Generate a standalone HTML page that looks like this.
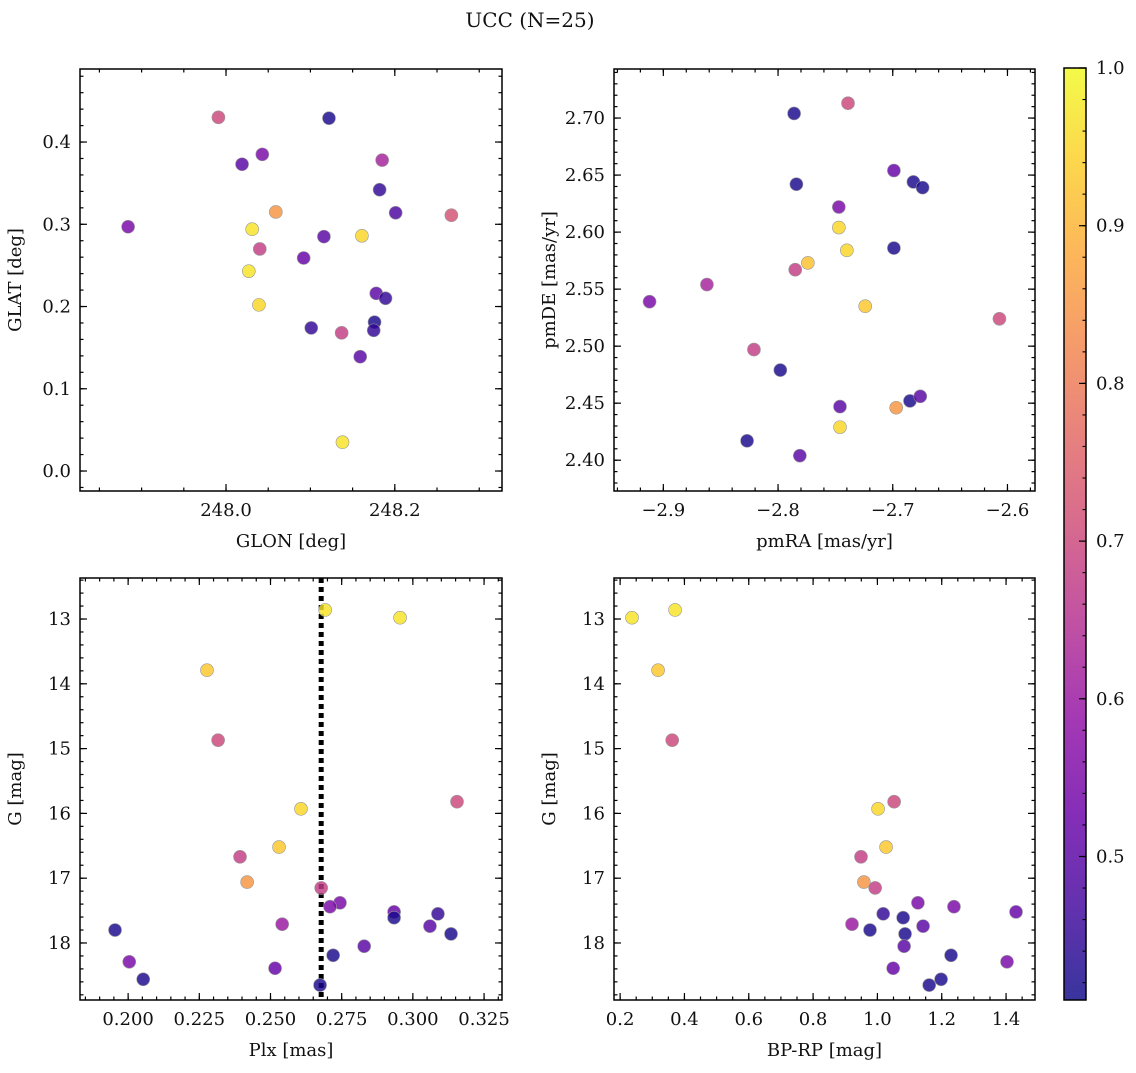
<!DOCTYPE html>
<html><head><meta charset="utf-8"><style>
body{margin:0;background:#fff}
svg text{font-family:"DejaVu Serif","Liberation Serif",serif;fill:#111}
</style></head><body>
<svg id="s" width="1136" height="1068" xmlns="http://www.w3.org/2000/svg">
<defs><linearGradient id="cbg" x1="0" y1="1" x2="0" y2="0">
<stop offset="0" stop-color="#0d0887"/><stop offset="0.1" stop-color="#41049d"/><stop offset="0.2" stop-color="#6a00a8"/><stop offset="0.3" stop-color="#8f0da4"/><stop offset="0.4" stop-color="#b12a90"/><stop offset="0.5" stop-color="#cc4778"/><stop offset="0.6" stop-color="#e16462"/><stop offset="0.7" stop-color="#f2844b"/><stop offset="0.8" stop-color="#fca636"/><stop offset="0.9" stop-color="#fcce25"/><stop offset="1" stop-color="#f0f921"/></linearGradient></defs>
<text x="530" y="27" font-size="20" text-anchor="middle">UCC (N=25)</text>
</svg>
<script>
const probs=[0.55,0.70,0.42,0.55,0.50,0.62,0.45,0.48,0.72,0.85,0.97,0.50,0.95,0.68,0.97,0.52,0.95,0.50,0.45,0.45,0.68,0.42,0.45,0.50,0.97];
const glon=[247.884,247.991,248.122,248.043,248.019,248.185,248.182,248.201,248.267,248.059,248.031,248.116,248.161,248.040,248.027,248.092,248.039,248.178,248.189,248.101,248.137,248.176,248.175,248.159,248.138];
const glat=[0.297,0.430,0.429,0.385,0.373,0.378,0.342,0.314,0.311,0.315,0.294,0.285,0.286,0.270,0.243,0.259,0.202,0.216,0.210,0.174,0.168,0.181,0.171,0.139,0.035];
const pmProbs=[0.42,0.70,0.42,0.52,0.42,0.42,0.55,0.95,0.95,0.42,0.92,0.68,0.55,0.62,0.93,0.70,0.68,0.42,0.42,0.50,0.50,0.85,0.95,0.42,0.50];
const pmra=[-2.786,-2.739,-2.784,-2.699,-2.682,-2.674,-2.747,-2.747,-2.740,-2.699,-2.774,-2.785,-2.912,-2.862,-2.724,-2.607,-2.821,-2.798,-2.685,-2.676,-2.746,-2.697,-2.746,-2.827,-2.781];
const pmde=[2.704,2.713,2.642,2.654,2.644,2.639,2.622,2.604,2.584,2.586,2.573,2.567,2.539,2.554,2.535,2.524,2.497,2.479,2.452,2.456,2.447,2.446,2.429,2.417,2.404];
const gProbs=[0.97,0.97,0.93,0.70,0.70,0.95,0.93,0.68,0.85,0.68,0.55,0.55,0.52,0.45,0.42,0.60,0.50,0.42,0.42,0.50,0.42,0.55,0.52,0.42,0.42];
const plx=[0.2692,0.2955,0.2277,0.2316,0.3155,0.2607,0.2530,0.2393,0.2418,0.2678,0.2744,0.2709,0.2934,0.3088,0.2934,0.2541,0.3060,0.1954,0.3134,0.2829,0.2720,0.2004,0.2516,0.2053,0.2674];
const gmag=[12.86,12.98,13.79,14.87,15.82,15.93,16.52,16.67,17.06,17.15,17.38,17.44,17.52,17.55,17.61,17.71,17.74,17.80,17.86,18.05,18.19,18.29,18.39,18.56,18.65];
const bprp=[0.371,0.237,0.318,0.362,1.052,1.002,1.027,0.949,0.958,0.993,1.126,1.238,1.431,1.018,1.080,0.921,1.142,0.977,1.086,1.083,1.229,1.403,1.049,1.198,1.161];
const plxLine=0.2678;
const cbTicks=[0.5,0.6,0.7,0.8,0.9,1.0];

const S=document.getElementById('s'),NS='http://www.w3.org/2000/svg';
function mk(t,a,p){const e=document.createElementNS(NS,t);for(const k in a)e.setAttribute(k,a[k]);(p||S).appendChild(e);return e;}
const stops=[[13,8,135],[65,4,157],[106,0,168],[143,13,164],[177,42,144],[204,71,120],[225,100,98],[242,132,75],[252,166,54],[252,206,37],[240,249,33]];
const vmin=0.409,vmax=1.0;
function cmap(v){let t=Math.max(0,Math.min(1,(v-vmin)/(vmax-vmin)))*10;let i=Math.min(9,Math.floor(t)),f=t-i;const a=stops[i],b=stops[i+1];return 'rgb('+a.map((c,j)=>Math.round(c+(b[j]-c)*f)).join(',')+')';}
const fmt=(v,d)=>(v<0?'\u2212':'')+Math.abs(v).toFixed(d);
function panel(o){
  const {L,T,W,H,x0,x1,y0,y1,inv}=o;
  const X=v=>L+(v-x0)/(x1-x0)*W, Y=v=>inv?T+(v-y0)/(y1-y0)*H:T+H-(v-y0)/(y1-y0)*H;
  const g=mk('g',{});
  function ticks(a0,a1,step,len,isX,labels,dec){
    const st=Math.ceil(a0/step-1e-6);
    for(let k=st;k*step<=a1+1e-9;k++){const v=k*step;
      if(isX){const x=X(v);mk('line',{x1:x,x2:x,y1:T+H,y2:T+H-len,stroke:'#000','stroke-width':1.2},g);mk('line',{x1:x,x2:x,y1:T,y2:T+len,stroke:'#000','stroke-width':1.2},g);
        if(labels){const t=mk('text',{x:x,y:T+H+25,'font-size':18,'text-anchor':'middle'},g);t.textContent=fmt(v,dec);}}
      else{const y=Y(v);mk('line',{y1:y,y2:y,x1:L,x2:L+len,stroke:'#000','stroke-width':1.2},g);mk('line',{y1:y,y2:y,x1:L+W,x2:L+W-len,stroke:'#000','stroke-width':1.2},g);
        if(labels){const t=mk('text',{x:L-9,y:y+6,'font-size':18,'text-anchor':'end'},g);t.textContent=fmt(v,dec);}}
    }}
  const ya=Math.min(y0,y1),yb=Math.max(y0,y1);
  ticks(x0,x1,o.xmin,3.5,true,false);ticks(x0,x1,o.xmaj,7,true,true,o.xd);
  ticks(ya,yb,o.ymin,3.5,false,false);ticks(ya,yb,o.ymaj,7,false,true,o.yd);
  if(o.vline!==undefined){const l=mk('line',{x1:X(o.vline),x2:X(o.vline),y1:T,y2:T+H,stroke:'#000','stroke-width':5,'stroke-dasharray':'5,4'},g);}
  o.xs.forEach((xv,i)=>{const c=mk('circle',{cx:X(xv),cy:Y(o.ys[i]),r:6.5,fill:cmap(o.cs[i]),'fill-opacity':0.82,stroke:'#999','stroke-width':0.6},g);
    });
  mk('rect',{x:L,y:T,width:W,height:H,fill:'none',stroke:'#000','stroke-width':1.5},g);
  const xl=mk('text',{x:L+W/2,y:T+H+56,'font-size':18,'text-anchor':'middle'},g);xl.textContent=o.xlab;
  const yl=mk('text',{x:0,y:0,'font-size':18,'text-anchor':'middle',transform:`translate(${L-59},${T+H/2}) rotate(-90)`},g);yl.textContent=o.ylab;
}
panel({name:'glon-glat-panel',L:80,T:69,W:422,H:422,x0:247.827,x1:248.327,y0:-0.0243,y1:0.4888,xmaj:0.2,xmin:0.05,xd:1,ymaj:0.1,ymin:0.02,yd:1,xs:glon,ys:glat,cs:probs,xlab:'GLON [deg]',ylab:'GLAT [deg]'});
panel({name:'pm-panel',L:614,T:69,W:421,H:422,x0:-2.943,x1:-2.576,y0:2.373,y1:2.743,xmaj:0.1,xmin:0.02,xd:1,ymaj:0.05,ymin:0.01,yd:2,xs:pmra,ys:pmde,cs:pmProbs,xlab:'pmRA [mas/yr]',ylab:'pmDE [mas/yr]'});
panel({name:'plx-g-panel',L:80,T:578,W:422,H:422,x0:0.1831,x1:0.3313,y0:12.367,y1:18.88,inv:true,xmaj:0.025,xmin:0.005,xd:3,ymaj:1,ymin:0.2,yd:0,xs:plx,ys:gmag,cs:gProbs,xlab:'Plx [mas]',ylab:'G [mag]',vline:plxLine});
panel({name:'cmd-panel',L:614,T:578,W:421,H:422,x0:0.181,x1:1.49,y0:12.367,y1:18.88,inv:true,xmaj:0.2,xmin:0.05,xd:1,ymaj:1,ymin:0.2,yd:0,xs:bprp,ys:gmag,cs:gProbs,xlab:'BP-RP [mag]',ylab:'G [mag]'});
const cb=mk('g',{});
const CT=68,CB=1000,CL=1064,CR=1086,CY=v=>CB-(v-vmin)/(vmax-vmin)*(CB-CT);
mk('rect',{x:CL,y:CT,width:CR-CL,height:CB-CT,fill:'url(#cbg)','fill-opacity':0.82},cb);
for(let k=21;k<=50;k++){const v=k*0.02,y=CY(v);mk('line',{x1:CR,x2:CR-3.5,y1:y,y2:y,stroke:'#000','stroke-width':1.1},cb);}
cbTicks.forEach(v=>{const y=CY(v);mk('line',{x1:CR,x2:CR-7,y1:y,y2:y,stroke:'#000','stroke-width':1.2},cb);const t=mk('text',{x:CR+10,y:y+6,'font-size':18},cb);t.textContent=v.toFixed(1);});
mk('rect',{x:CL,y:CT,width:CR-CL,height:CB-CT,fill:'none',stroke:'#000','stroke-width':1.5},cb);
</script>
</body></html>
